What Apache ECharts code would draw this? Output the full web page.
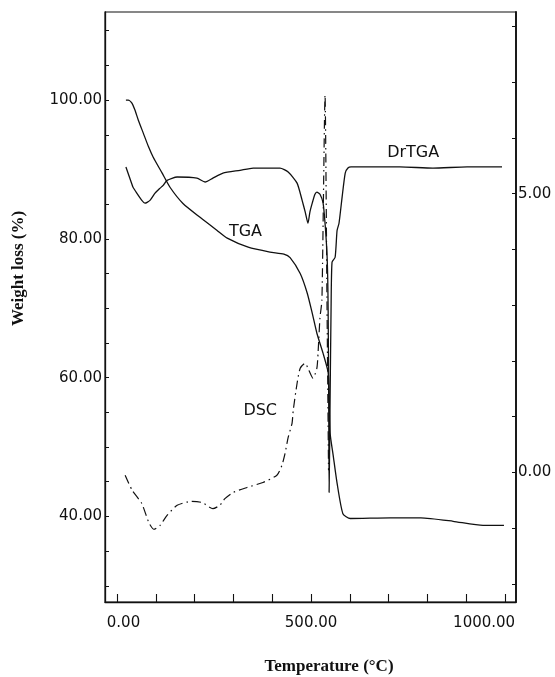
<!DOCTYPE html>
<html>
<head>
<meta charset="utf-8">
<script src="https://cdn.jsdelivr.net/npm/echarts@6/dist/echarts.min.js"></script>
<style>
  html, body { margin: 0; padding: 0; background: #fff; }
  #chart { width: 555px; height: 677px; }
</style>
</head>
<body>
<div id="chart"></div>
<script>
// Thermal analysis traces: TGA (weight %, left axis), DrTGA and DSC (right axis)
const tgaTemp = [23, 29, 38, 46, 55, 68, 81, 93, 116, 137, 170, 214, 258, 284, 338, 394, 430, 446,
  472, 490, 503, 515, 531, 544, 546, 549, 557, 567, 582, 601, 704, 783, 866, 943, 997];
const tgaWeight = [100.0, 100.0, 99.6, 98.6, 97.1, 95.2, 93.3, 91.8, 89.5, 87.4, 85.1, 83.1, 81.2, 80.1,
  78.8, 78.1, 77.8, 77.3, 75.0, 72.2, 69.3, 66.4, 63.5, 60.8, 58.6, 52.0, 48.8, 44.8, 40.4, 39.7,
  39.8, 39.8, 39.3, 38.7, 38.7];

const drtgaTemp = [23, 38, 41, 51, 64, 72, 85, 98, 111, 119, 129, 155, 206, 227, 247, 273, 317, 351,
  420, 441, 464, 477, 485, 492, 497, 503, 510, 515, 523, 531, 536, 541, 543, 544, 545.5, 546.5,
  549, 551.5, 554, 562, 567, 572, 580, 588, 595, 603, 729, 814, 902, 992];
const drtgaValue = [5.48, 5.18, 5.12, 5.01, 4.88, 4.83, 4.88, 5.01, 5.10, 5.15, 5.24, 5.30, 5.28, 5.21,
  5.28, 5.37, 5.42, 5.46, 5.46, 5.39, 5.19, 4.88, 4.67, 4.47, 4.67, 4.83, 4.99, 5.03, 4.99, 4.83,
  4.47, 3.93, 3.45, 2.91, 1.29, -0.36, 1.29, 2.91, 3.77, 3.86, 4.34, 4.47, 4.94, 5.37, 5.46, 5.48,
  5.48, 5.46, 5.48, 5.48];

const dscTemp = [21, 39, 64, 82, 95, 111, 129, 155, 191, 219, 247, 265, 278, 299, 335, 376, 412, 425,
  433, 441, 451, 454, 464, 472, 485, 492, 505, 515, 518, 523, 528, 536, 541, 545];
const dscValue = [-0.05, -0.32, -0.56, -0.90, -1.02, -0.95, -0.77, -0.59, -0.52, -0.54, -0.65, -0.59,
  -0.47, -0.36, -0.27, -0.18, -0.05, 0.13, 0.34, 0.63, 0.88, 1.11, 1.60, 1.87, 1.96, 1.87, 1.69,
  1.87, 2.14, 2.78, 3.09, 6.77, 3.09, 0.04];

// Axis ticks and labels
const tempTicks = [0, 100, 200, 300, 400, 500, 600, 700, 800, 900, 1000];
const tempLabels = [0, 500, 1000];
const weightTicks = [30, 35, 40, 45, 50, 55, 60, 65, 70, 75, 80, 85, 90, 95, 100, 105, 110];
const weightLabels = [40, 60, 80, 100];
const rightTicks = [-2, -1, 0, 1, 2, 3, 4, 5, 6, 7, 8];
const rightLabels = [0, 5];

// Curve captions: [text, temperature, value]
const captions = [
  ['TGA', 331, 81.0],
  ['DrTGA', 763, 5.73],
  ['DSC', 369, 1.11]
];

const zip = (xs, ys) => xs.map((x, i) => [x, ys[i]]);

const INK = '#111';
const NUM_FONT = 'DejaVu Sans';
const numStyle = { fontFamily: NUM_FONT, fontSize: 15, color: INK };

function markFor(name) {
  const c = captions.find(k => k[0] === name);
  return {
    silent: true,
    symbol: 'circle',
    symbolSize: 1,
    itemStyle: { color: 'rgba(0,0,0,0)' },
    label: {
      show: true,
      position: 'inside',
      formatter: c[0],
      fontFamily: NUM_FONT,
      fontSize: 16,
      color: INK
    },
    data: [{ coord: [c[1], c[2]] }]
  };
}

const chart = echarts.init(document.getElementById('chart'), null, { renderer: 'canvas' });

chart.setOption({
  animation: false,
  backgroundColor: '#fff',
  grid: {
    left: 105, right: 39, top: 12, bottom: 75,
    outerBoundsMode: 'none',
    containLabel: false,
    show: true, borderColor: INK, borderWidth: 1.2, backgroundColor: 'transparent'
  },
  xAxis: {
    type: 'value',
    min: -30.9, max: 1028,
    name: 'Temperature (°C)',
    nameLocation: 'middle',
    nameGap: 56,
    nameTextStyle: {
      fontFamily: 'Liberation Serif', fontWeight: 'bold', fontSize: 17, color: INK,
      padding: [0, 0, 0, 37]
    },
    axisLine: { show: true, onZero: false, lineStyle: { color: INK, width: 1.3 } },
    axisTick: { show: true, inside: true, length: 8, customValues: tempTicks, lineStyle: { color: INK, width: 1.1 } },
    splitLine: { show: false },
    axisLabel: {
      customValues: tempLabels,
      margin: 14,
      ...numStyle,
      formatter: v => v === 0 ? '{first|0.00}' : (v === 1000 ? '{last|1000.00}' : '{mid|' + v.toFixed(2) + '}'),
      rich: {
        first: { ...numStyle, padding: [0, 0, 0, 13] },
        mid: { ...numStyle },
        last: { ...numStyle, padding: [0, 42, 0, 0] }
      }
    }
  },
  yAxis: [
    {
      type: 'value',
      position: 'left',
      min: 27.67, max: 112.69,
      name: 'Weight loss (%)',
      nameLocation: 'middle',
      nameGap: 78,
      nameTextStyle: {
        fontFamily: 'Liberation Serif', fontWeight: 'bold', fontSize: 17, color: INK,
        padding: [0, 0, 0, 77]
      },
      axisLine: { show: true, onZero: false, lineStyle: { color: INK, width: 1.3 } },
      axisTick: { show: true, inside: true, length: 4, customValues: weightTicks, lineStyle: { color: INK, width: 1 } },
      splitLine: { show: false },
      axisLabel: {
        customValues: weightLabels,
        margin: 3,
        ...numStyle,
        formatter: v => v.toFixed(2)
      }
    },
    {
      type: 'value',
      position: 'right',
      min: -2.325, max: 8.26,
      axisLine: { show: true, onZero: false, lineStyle: { color: INK, width: 1.8 } },
      axisTick: { show: true, inside: true, length: 4, customValues: rightTicks, lineStyle: { color: INK, width: 1 } },
      splitLine: { show: false },
      axisLabel: {
        customValues: rightLabels,
        margin: 2,
        ...numStyle,
        formatter: v => v.toFixed(2)
      }
    }
  ],
  series: [
    {
      name: 'TGA',
      type: 'line',
      yAxisIndex: 0,
      showSymbol: false,
      smooth: 0.2,
      data: zip(tgaTemp, tgaWeight),
      lineStyle: { color: INK, width: 1.3 },
      markPoint: markFor('TGA')
    },
    {
      name: 'DrTGA',
      type: 'line',
      yAxisIndex: 1,
      showSymbol: false,
      smooth: 0.2,
      data: zip(drtgaTemp, drtgaValue),
      lineStyle: { color: INK, width: 1.3 },
      markPoint: markFor('DrTGA')
    },
    {
      name: 'DSC',
      type: 'line',
      yAxisIndex: 1,
      showSymbol: false,
      smooth: 0.2,
      data: zip(dscTemp, dscValue),
      lineStyle: { color: INK, width: 1.2, type: [9, 4, 1.5, 4] },
      markPoint: markFor('DSC')
    }
  ]
});
</script>
</body>
</html>
